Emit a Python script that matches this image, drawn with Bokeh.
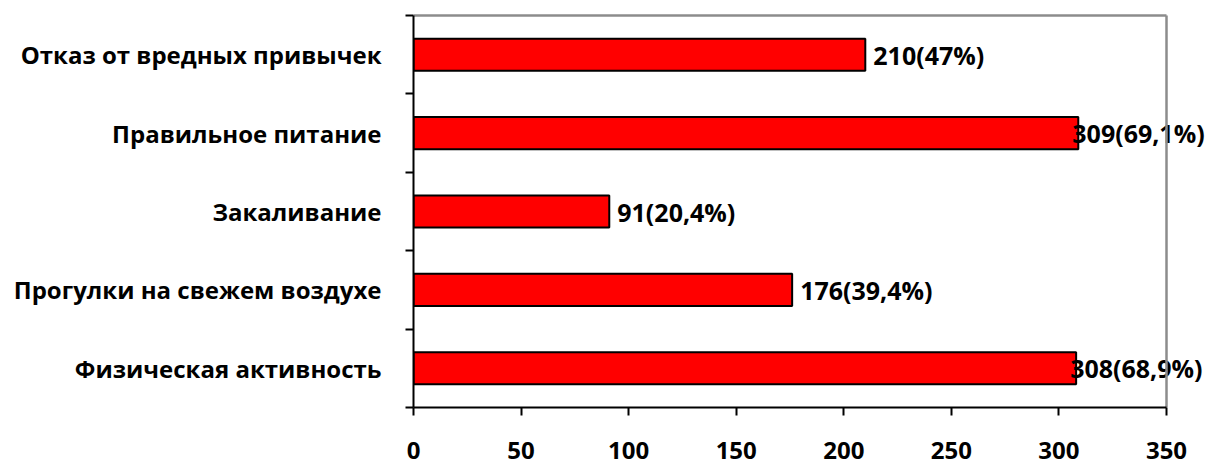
from bokeh.plotting import figure
from bokeh.models import FixedTicker, ColumnDataSource
from bokeh.core.properties import value
from bokeh.embed import file_html
from bokeh.resources import INLINE

categories = ["Физическая активность", "Прогулки на свежем воздухе", "Закаливание",
              "Правильное питание", "Отказ от вредных привычек"]
counts = [308, 176, 91, 309, 210]
labels = ["308(68,9%)", "176(39,4%)", "91(20,4%)", "309(69,1%)", "210(47%)"]
x_ticks = [0, 50, 100, 150, 200, 250, 300, 350]

FONT = "Open Sans"
n = len(categories)
pos = list(range(n))
xmax = x_ticks[-1]

top_pad = 2 / 78.4
p = figure(width=1213, height=465, output_backend="svg", toolbar_location=None,
           x_range=(0, xmax * 798 / 753), y_range=(-0.5, n - 0.5 + top_pad),
           min_border_left=413, min_border_right=2, min_border_top=13, min_border_bottom=58)
p.outline_line_color = None
p.xgrid.visible = False
p.ygrid.visible = False

src = ColumnDataSource(dict(y=pos, v=counts, lab=labels,
                            off=[8 if c < 300 else -6 for c in counts]))
p.hbar(y="y", right="v", left=0, height=0.41, source=src,
       fill_color="#FF0000", line_color="black", line_width=2)
p.text(x="v", y="y", text="lab", x_offset="off", source=src,
       text_font=value(FONT), text_font_style="bold", text_font_size="25px",
       text_align="left", text_baseline="middle", text_color="black")

# plot-area border (top and right)
p.segment(x0=[0, xmax], y0=[n - 0.5, -0.5], x1=[xmax, xmax], y1=[n - 0.5, n - 0.5],
          line_color="#8c8c8c", line_width=2.5)

xa = p.xaxis[0]
xa.ticker = FixedTicker(ticks=x_ticks)
xa.bounds = (0, xmax)
xa.axis_line_width = 2
xa.axis_line_color = "black"
xa.major_tick_line_width = 2
xa.major_tick_out = 8
xa.major_tick_in = 0
xa.minor_tick_line_color = None
xa.major_label_text_font = FONT
xa.major_label_text_font_style = "bold"
xa.major_label_text_font_size = "24px"
xa.major_label_text_color = "black"
xa.major_label_standoff = 26

ya = p.yaxis[0]
ya.ticker = FixedTicker(ticks=pos, minor_ticks=[i - 0.5 for i in range(n + 1)])
ya.bounds = (-0.5, n - 0.5)
ya.axis_line_width = 2
ya.axis_line_color = "black"
ya.major_tick_out = 0
ya.major_tick_in = 0
ya.minor_tick_out = 8
ya.minor_tick_in = 0
ya.minor_tick_line_width = 2
ya.minor_tick_line_color = "black"
ya.major_label_overrides = {i: c for i, c in zip(pos, categories)}
ya.major_label_text_font = FONT
ya.major_label_text_font_style = "bold"
ya.major_label_text_font_size = "24px"
ya.major_label_text_color = "black"
ya.major_label_standoff = 24

open("out.html", "w").write(file_html(p, INLINE))
